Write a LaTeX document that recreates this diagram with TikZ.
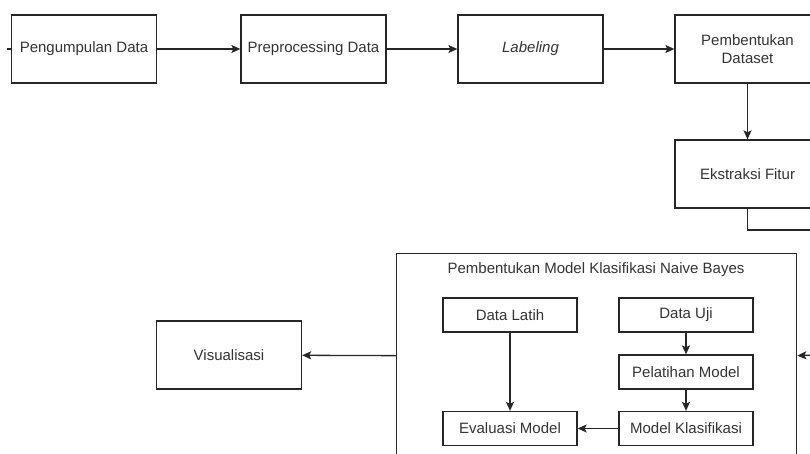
\documentclass[tikz,border=0pt]{standalone}
\usepackage{fontspec}
\setmainfont{Liberation Sans}
\usetikzlibrary{arrows.meta}
\begin{document}
\begin{tikzpicture}[x=1pt, y=-1pt, line width=1.3pt, draw=black!85,
  every node/.style={font=\fontsize{15}{18}\selectfont, inner sep=0pt, text=black!80},
  bigbox/.style={draw, minimum width=145, minimum height=68, align=center},
  smallbox/.style={draw, minimum width=134, minimum height=34},
  arr/.style={-{Stealth[length=9pt, width=8pt, inset=2pt]}}]
\useasboundingbox (0,0) rectangle (810,453);
\clip (0,0) rectangle (810,453);
% Top row
\node[bigbox] (pengumpulan) at (84,49) {Pengumpulan Data};
\node[bigbox] (preprocessing) at (313.5,49) {Preprocessing Data};
\node[bigbox] (labeling) at (530.5,49) {\itshape Labeling};
\node[bigbox] (dataset) at (747.5,49) {Pembentukan\\Dataset};
\node[bigbox] (ekstraksi) at (747.5,174) {Ekstraksi Fitur};
\coordinate (masuk) at (7,49);
\draw (masuk) -- (pengumpulan);
\draw[arr] (pengumpulan) -- (preprocessing); \draw[arr] (preprocessing) -- (labeling); \draw[arr] (labeling) -- (dataset);
\draw[arr] (dataset) -- (ekstraksi);
\coordinate (keluar) at (815,230);
\draw (ekstraksi.south) |- (keluar);
% Naive Bayes block
\node[draw, minimum width=400, minimum height=204, anchor=north west] (model) at (396,253) {};
\node (judul) at (596,270) {Pembentukan Model Klasifikasi Naive Bayes};
\node[smallbox] (latih) at (510,315) {Data Latih};
\node[smallbox] (uji) at (686,315) {Data Uji};
\node[smallbox] (pelatihan) at (686,372) {Pelatihan Model};
\node[smallbox] (klasifikasi) at (686,428.5) {Model Klasifikasi};
\node[smallbox] (evaluasi) at (510,428.5) {Evaluasi Model};
\draw[arr] (latih) -- (evaluasi); \draw[arr] (uji) -- (pelatihan); \draw[arr] (pelatihan) -- (klasifikasi);
\draw[arr] (klasifikasi) -- (evaluasi);
\coordinate (kanan) at (815,355);
\draw[arr] (kanan) -- (model.east);
% Output
\node[bigbox] (visual) at (229,355) {Visualisasi};
\draw[arr] (model.west) -- (visual);
\end{tikzpicture}
\end{document}
